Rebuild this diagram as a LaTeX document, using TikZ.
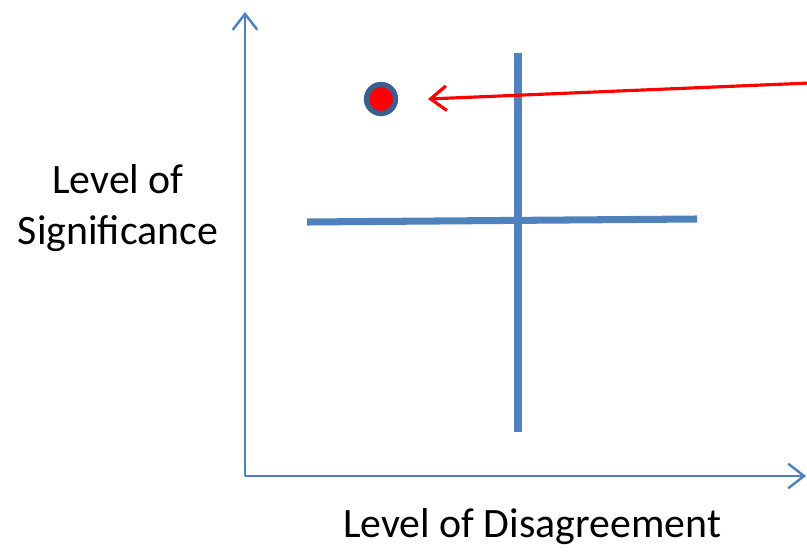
\documentclass[tikz,border=0pt]{standalone}
\usepackage{fontspec}
\setmainfont{Carlito}
\usetikzlibrary{arrows.meta}
\definecolor{axisblue}{HTML}{4F81BD}
\definecolor{ringblue}{HTML}{3B5F8F}

\begin{document}
\begin{tikzpicture}[x=0.01cm,y=-0.01cm,
  axis/.style={axisblue,line width=0.7pt,-{Straight Barb[length=4.5pt,width=7pt]}},
  quad/.style={axisblue,line width=2pt},
  lbl/.style={font=\fontsize{11.9}{14.5}\selectfont,align=center}]
\useasboundingbox (0,0) rectangle (807,552);
\coordinate (O) at (245,476);
\coordinate (Ytop) at (245,12);
\coordinate (Xend) at (806,476);
\draw[axis] (O) -- (Ytop);
\draw[axis] (O) -- (Xend);
\coordinate (V1) at (518,53);
\coordinate (V2) at (518,432);
\coordinate (H1) at (307,222);
\coordinate (H2) at (697,219);
\draw[quad] (V1) -- (V2);
\draw[quad] (H1) -- (H2);
\node[circle,fill=red,draw=ringblue,line width=1.5pt,minimum size=0.29cm,inner sep=0pt] (dot) at (381,99) {};
\coordinate (P) at (810,83);
\draw[red,line width=0.9pt,-{Straight Barb[length=4.5pt,width=7pt]}] (P) -- (428,99);
\node[lbl] (ylab) at (118,208) {Level of\\Significance};
\node[lbl] (xlab) at (532,527) {Level of Disagreement};
\end{tikzpicture}
\end{document}
